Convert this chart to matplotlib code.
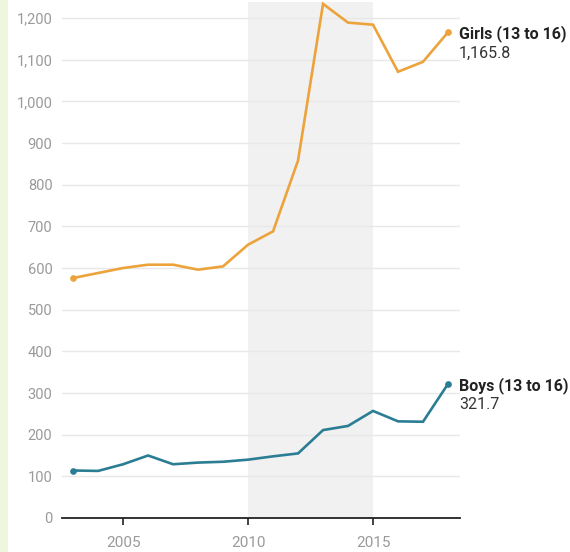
import matplotlib.pyplot as plt
import matplotlib.patches as patches

# --- Data ---
years = [2003, 2004, 2005, 2006, 2007, 2008, 2009, 2010,
         2011, 2012, 2013, 2014, 2015, 2016, 2017, 2018]
girls = [576, 588, 600, 608, 608, 596, 604, 656,
         688, 858, 1234, 1189, 1184, 1071, 1095, 1165.8]
boys = [114, 113, 129, 150, 129, 133, 135, 140,
        148, 155, 211, 221, 257, 232, 231, 321.7]

series_names = ['Girls (13 to 16)', 'Boys (13 to 16)']
shade_span = (2010, 2015)
x_ticks = [2005, 2010, 2015]
y_ticks = [0, 100, 200, 300, 400, 500, 600, 700, 800, 900, 1000, 1100, 1200]

# --- Styling ---
plt.rcParams['font.family'] = ['Roboto', 'DejaVu Sans']
GIRLS_COLOR = '#eda33b'
BOYS_COLOR = '#2b7d94'
GRID_COLOR = '#e8e8e8'
TICK_COLOR = '#9a9a9a'

fig = plt.figure(figsize=(5.7, 5.52), dpi=100)
fig.patch.set_facecolor('white')

# pale green strip on the left edge
fig.patches.append(patches.Rectangle((0, 0), 8 / 570, 1, transform=fig.transFigure,
                                     facecolor='#eef7de', edgecolor='none', zorder=0))

ax = fig.add_axes([0.109, 0.0616, 0.698, 0.9344])
ax.set_xlim(2002.56, 2018.48)
ax.set_ylim(0, 1238)

ax.axvspan(*shade_span, color='#f1f1f1', zorder=0, lw=0)
for y in y_ticks[1:]:
    ax.axhline(y, color=GRID_COLOR, lw=1.0, zorder=1)

for vals, color, name in [(girls, GIRLS_COLOR, series_names[0]),
                          (boys, BOYS_COLOR, series_names[1])]:
    ax.plot(years, vals, color=color, lw=1.9, zorder=3, clip_on=False,
            solid_joinstyle='miter')
    ax.plot([years[0], years[-1]], [vals[0], vals[-1]], 'o', color=color,
            ms=3.8, zorder=4, clip_on=False)
    ax.annotate(name, (years[-1], vals[-1]), xytext=(8, -1), textcoords='offset points',
                fontsize=11.5, fontweight='bold', color='#222222',
                va='center', ha='left', annotation_clip=False)
    ax.annotate(f'{vals[-1]:,.1f}', (years[-1], vals[-1]), xytext=(8, -15),
                textcoords='offset points', fontsize=11.5, color='#333333',
                va='center', ha='left', annotation_clip=False)

for side in ['top', 'right', 'left']:
    ax.spines[side].set_visible(False)
ax.spines['bottom'].set_color('#222222')
ax.spines['bottom'].set_linewidth(1.3)
ax.spines['bottom'].set_zorder(5)

ax.set_yticks(y_ticks)
ax.set_yticklabels([f'{v:,}' for v in y_ticks])
ax.tick_params(axis='y', length=0, pad=7, labelsize=10.5, labelcolor=TICK_COLOR)
ax.set_xticks(x_ticks)
ax.tick_params(axis='x', length=5, width=1.2, color='#222222', pad=8,
               labelsize=11, labelcolor=TICK_COLOR)
ax.set_facecolor('none')

fig.savefig('out.png', dpi=100)
